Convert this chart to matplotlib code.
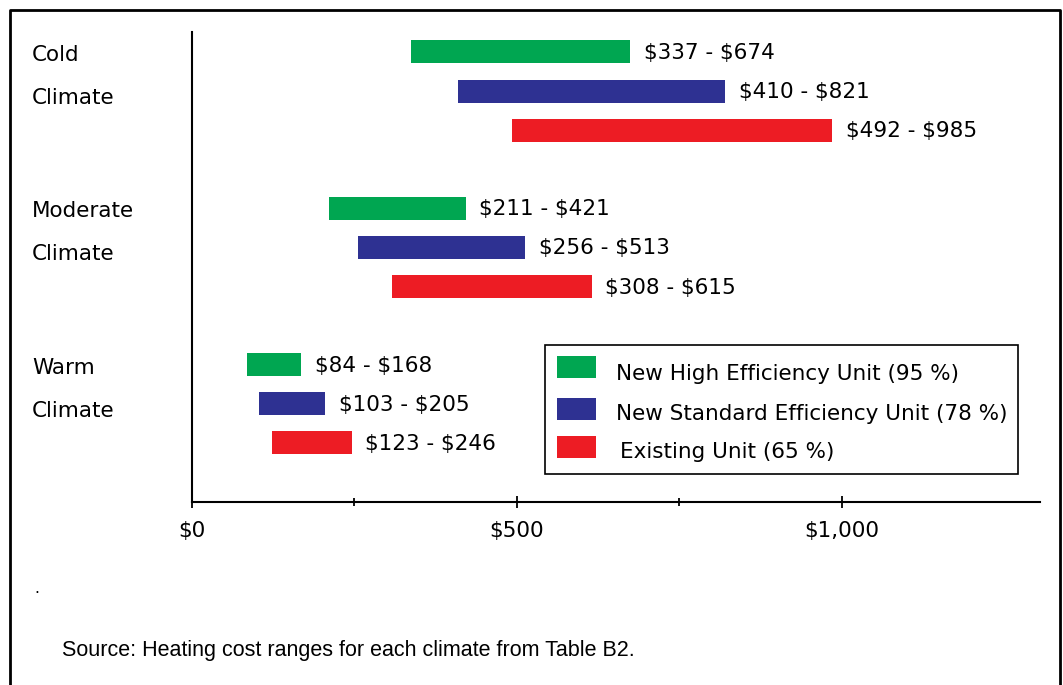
import matplotlib.pyplot as plt
import matplotlib.transforms as mtransforms
from matplotlib.patches import Rectangle
from matplotlib.lines import Line2D

plt.rcParams['font.family'] = ['DejaVu Sans']
plt.rcParams['text.parse_math'] = False

# Data
climates = ['Cold', 'Moderate', 'Warm']
units = ['New High Efficiency Unit (95 %)',
         'New Standard Efficiency Unit (78 %)',
         'Existing Unit (65 %)']
colors = ['#00A651', '#2E3192', '#ED1C24']
low = [[337, 410, 492], [211, 256, 308], [84, 103, 123]]
high = [[674, 821, 985], [421, 513, 615], [168, 205, 246]]
xticks = [0, 500, 1000]
xticklabels = ['$0', '$500', '$1,000']

FS = 15.5
W, H = 1063, 685
fig = plt.figure(figsize=(W / 100, H / 100), dpi=100)
ax = fig.add_axes([192 / W, 1 - 502 / H, 848 / W, 470 / H])

# bars: rows 0,1,2 / 4,5,6 / 8,9,10
for g in range(3):
    for u in range(3):
        pos = g * 4 + u
        lo, hi = low[g][u], high[g][u]
        ax.barh(pos, hi - lo, left=lo, height=0.59, color=colors[u])
        ax.text(hi + 21, pos + 0.18, f'${lo} - ${hi}', va='baseline', ha='left', fontsize=FS)

ax.set_xlim(0, 1305)
ax.set_ylim(11.51, -0.51)

for s in ['top', 'right']:
    ax.spines[s].set_visible(False)
ax.spines['left'].set_linewidth(1.5)
ax.spines['bottom'].set_linewidth(1.5)
ax.set_yticks([])
ax.set_xticks(xticks)
ax.set_xticklabels(xticklabels, fontsize=FS)
ax.set_xticks([250, 750], minor=True)
ax.tick_params(axis='x', which='major', direction='inout', length=9, width=1.3, pad=9)
ax.tick_params(axis='x', which='minor', direction='inout', length=6, width=1.3)

# climate names on the left
trans = mtransforms.blended_transform_factory(fig.transFigure, ax.transData)
for g, name in enumerate(climates):
    ax.text(32 / W, g * 4 + 0.23, name, transform=trans, va='baseline', ha='left', fontsize=FS)
    ax.text(32 / W, g * 4 + 1.33, 'Climate', transform=trans, va='baseline', ha='left', fontsize=FS)

# legend box drawn by hand
def fx(px):
    return px / W

def fy(py):
    return 1 - py / H

fig.add_artist(Rectangle((fx(544.5), fy(473.5)), fx(1018) - fx(544.5), fy(345) - fy(473.5),
                         transform=fig.transFigure, fill=False, edgecolor='black', lw=1.2))
patch_top = [356, 398, 436]
text_base = [379.5, 420.5, 457.5]
text_x = [616, 616, 620]
for i in range(3):
    fig.add_artist(Rectangle((fx(557), fy(patch_top[i] + 22)), fx(596) - fx(557), 22 / H,
                             transform=fig.transFigure, color=colors[i], lw=0))
    fig.text(fx(text_x[i]), fy(text_base[i]), units[i], va='baseline', ha='left', fontsize=FS)

# outer frame
fig.add_artist(Line2D([fx(9.5), fx(9.5), fx(1060), fx(1060)],
                      [fy(700), fy(10), fy(10), fy(700)],
                      transform=fig.transFigure, color='black', lw=2))

fig.text(fx(34), fy(593), '.', va='baseline', ha='left', fontsize=11)
fig.text(fx(62), fy(656), 'Source: Heating cost ranges for each climate from Table B2.',
         va='baseline', ha='left', fontsize=15.5, family='Liberation Sans')

fig.savefig('out.png', dpi=100)
